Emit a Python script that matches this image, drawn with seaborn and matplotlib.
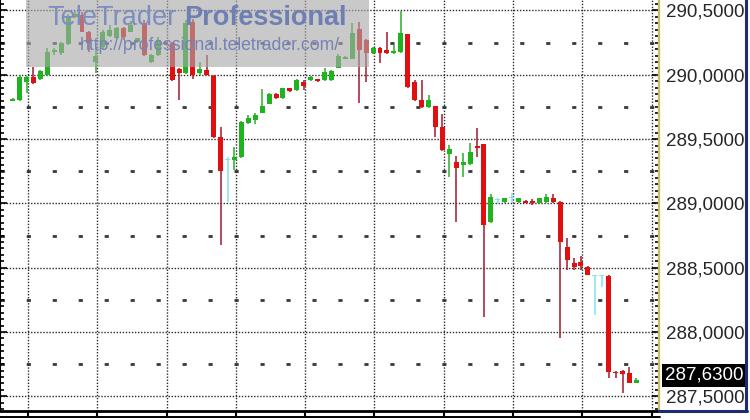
import matplotlib.pyplot as plt
import numpy as np
import pandas as pd
import seaborn as sns
from matplotlib.lines import Line2D
from matplotlib.patches import Rectangle
from matplotlib.ticker import FuncFormatter, MultipleLocator

sns.set_theme(style="white")
plt.rcParams["font.family"] = ["Liberation Sans", "DejaVu Sans"]
plt.rcParams["lines.scale_dashes"] = False

# intraday candles
opens = [
    289.800, 289.805, 289.945, 289.985, 289.965, 290.000, 290.175, 290.170, 290.240, 290.450,
    290.465, 290.335, 290.100, 290.215, 290.300, 290.285, 290.365, 290.335, 290.255, 290.405,
    290.100, 290.155, 290.255, 290.245, 290.045, 290.015, 290.410, 290.015, 290.035, 289.990,
    289.515, 289.340, 289.340, 289.360, 289.625, 289.650, 289.705, 289.775, 289.850, 289.820,
    289.895, 289.880, 289.945, 289.960, 289.965, 289.960, 289.960, 290.055, 290.125, 290.125,
    290.355, 290.270, 290.170, 290.210, 290.195, 290.170, 290.175, 290.315, 289.945, 289.805,
    289.750, 289.755, 289.595, 289.385, 289.320, 289.300, 289.305, 289.445, 289.460, 288.855,
    289.025, 289.010, 289.040, 289.010, 289.020, 289.020, 289.005, 289.010, 289.040, 289.010,
    288.660, 288.535, 288.545, 288.505, 288.435, 288.435, 288.435, 287.690, 287.695, 287.680,
    287.600,
]
highs = [
    289.820, 290.000, 289.990, 290.060, 290.035, 290.210, 290.210, 290.255, 290.475, 290.495,
    290.485, 290.340, 290.215, 290.345, 290.385, 290.370, 290.370, 290.420, 290.290, 290.425,
    290.160, 290.295, 290.260, 290.255, 290.050, 290.425, 290.435, 290.100, 290.155, 289.995,
    289.595, 289.360, 289.440, 289.640, 289.685, 289.705, 289.890, 289.855, 289.855, 289.900,
    289.900, 289.965, 289.960, 289.990, 289.970, 290.055, 290.035, 290.160, 290.145, 290.405,
    290.410, 290.275, 290.215, 290.215, 290.335, 290.230, 290.495, 290.320, 289.960, 289.960,
    289.845, 289.760, 289.695, 289.455, 289.370, 289.390, 289.470, 289.585, 289.465, 289.075,
    289.040, 289.045, 289.080, 289.045, 289.025, 289.035, 289.045, 289.075, 289.075, 289.015,
    288.730, 288.575, 288.590, 288.510, 288.440, 288.440, 288.440, 287.695, 287.705, 287.730,
    287.640,
]
lows = [
    289.795, 289.795, 289.860, 289.930, 289.960, 289.990, 290.155, 290.155, 290.235, 290.445,
    290.330, 290.175, 290.015, 290.195, 290.295, 290.280, 290.270, 290.330, 290.250, 290.150,
    290.090, 290.150, 290.235, 289.955, 289.805, 290.010, 289.965, 290.000, 289.995, 289.510,
    288.675, 289.010, 289.260, 289.355, 289.620, 289.615, 289.700, 289.770, 289.815, 289.815,
    289.870, 289.875, 289.880, 289.955, 289.945, 289.955, 289.955, 290.050, 290.120, 290.120,
    289.780, 289.945, 290.165, 290.090, 290.165, 290.165, 290.170, 289.900, 289.800, 289.745,
    289.745, 289.515, 289.410, 289.205, 288.855, 289.205, 289.300, 289.360, 288.115, 288.850,
    288.995, 289.005, 289.005, 289.005, 289.000, 288.990, 289.000, 289.005, 289.005, 287.955,
    288.480, 288.480, 288.480, 288.440, 288.130, 288.350, 287.640, 287.640, 287.525, 287.600,
    287.600,
]
closes = [
    289.810, 289.985, 289.985, 289.935, 290.030, 290.175, 290.195, 290.245, 290.450, 290.475,
    290.335, 290.245, 290.145, 290.335, 290.350, 290.365, 290.295, 290.385, 290.285, 290.155,
    290.155, 290.270, 290.240, 289.960, 290.015, 290.405, 290.000, 290.045, 290.000, 289.515,
    289.250, 289.340, 289.360, 289.635, 289.665, 289.685, 289.755, 289.850, 289.820, 289.895,
    289.875, 289.960, 289.915, 289.985, 289.950, 290.020, 290.030, 290.145, 290.140, 290.325,
    290.195, 290.170, 290.210, 290.170, 290.170, 290.185, 290.325, 289.905, 289.805, 289.750,
    289.805, 289.595, 289.415, 289.425, 289.275, 289.320, 289.400, 289.430, 288.830, 289.050,
    289.025, 289.040, 289.040, 289.040, 289.005, 289.005, 289.040, 289.050, 289.010, 288.700,
    288.560, 288.505, 288.515, 288.445, 288.435, 288.435, 287.690, 287.680, 287.675, 287.605,
    287.630,
]
last_price = 287.63

df = pd.DataFrame({"open": opens, "high": highs, "low": lows, "close": closes})
df["x"] = np.arange(len(df))
up = df["close"] > df["open"]
down = df["close"] < df["open"]
df["body"] = np.select([up, down], ["#1fb41f", "#e01010"], "#7fe3ea")
df["wick"] = np.select([up, down], ["#2aae2a", "#a3182e"], "#7fe3ea")

fig = plt.figure(figsize=(7.5, 4.2), dpi=100, facecolor="white")
ax = fig.add_axes([0, 9 / 420, 659 / 750, 411 / 420])
ax.set_facecolor("white")

# grid: dotted majors, sparse dashes on the quarter levels
ax.xaxis.set_major_locator(MultipleLocator(10, offset=2.2))
ax.yaxis.set_major_locator(MultipleLocator(0.5))
ax.yaxis.set_minor_locator(MultipleLocator(0.05))
ax.grid(True, which="major", axis="both", color="#2a2a2a", lw=1.0,
        linestyle=(0, (1.0, 1.2)), zorder=0)
for lv in np.arange(287.75, 290.5, 0.5):
    ax.axhline(lv, color="#3a3a3a", lw=2.0, linestyle=(18.5, (3.0, 15.7)), zorder=0)

# candles
ax.vlines(df["x"], df["low"], df["high"], colors=df["wick"], lw=1.1, zorder=2)
bottoms = df[["open", "close"]].min(axis=1)
heights = np.maximum((df["close"] - df["open"]).abs(), 0.008)
ax.bar(df["x"], heights, bottom=bottoms, width=0.72, color=df["body"],
       linewidth=0, zorder=3)

ax.set_xlim(-1.833, 93.26)
ax.set_ylim(287.3857, 290.5816)

ax.yaxis.set_major_formatter(FuncFormatter(lambda v, _: f"{v:.4f}".replace(".", ",")))
ax.tick_params(axis="y", which="both", left=True, right=True, direction="in",
               labelleft=False, labelright=True, color="black", width=1.2)
ax.tick_params(axis="y", which="major", length=5, labelsize=13.5, pad=5)
ax.tick_params(axis="y", which="minor", length=3)
ax.tick_params(axis="x", which="major", bottom=True, direction="out", length=4,
               width=1.5, color="black", labelbottom=False)

ax.spines["top"].set_visible(False)
ax.spines["left"].set_color("black")
ax.spines["left"].set_linewidth(1.5)
ax.spines["bottom"].set_color("black")
ax.spines["bottom"].set_linewidth(2.0)
ax.spines["right"].set_color("#cdbb6a")
ax.spines["right"].set_linewidth(1.6)
ax.spines["right"].set_linestyle((0, (1.5, 1.0)))

# last price tag
ax.annotate(f"{last_price:.4f}".replace(".", ","), xy=(1, last_price),
            xycoords=("axes fraction", "data"), xytext=(4, 3), textcoords="offset points",
            ha="left", va="center", fontsize=13.5, color="white", zorder=10,
            bbox=dict(boxstyle="square,pad=0.15", fc="black", ec="none"),
            annotation_clip=False)

# frame pieces around the scale and the time strip
fig.add_artist(Line2D([746 / 750, 746 / 750], [9 / 420, 1], color="#1c2a78", lw=2.2))
fig.add_artist(Line2D([659 / 750, 747 / 750], [9 / 420, 9 / 420], color="#1c2a78", lw=2.2))
fig.add_artist(Line2D([0, 660 / 750], [3.5 / 420, 3.5 / 420], color="black", lw=1.4))

# watermark
fig.add_artist(Rectangle((26 / 750, 353 / 420), 343 / 750, 67 / 420, transform=fig.transFigure,
                         facecolor="#a9a9a9", alpha=0.62, edgecolor="none", zorder=5))
fig.text(47 / 750, 395 / 420, "TeleTrader", fontsize=19.5, color="#7d8dc0",
         ha="left", va="baseline", zorder=6)
fig.text(184 / 750, 395 / 420, "Professional", fontsize=19.5, fontweight="bold",
         color="#6e7fb4", ha="left", va="baseline", zorder=6)
fig.text(80 / 750, 370 / 420, "http://professional.teletrader.com/", fontsize=12.7,
         color="#7583b6", ha="left", va="baseline", zorder=6)

fig.savefig("out.png", dpi=100, facecolor="white")
